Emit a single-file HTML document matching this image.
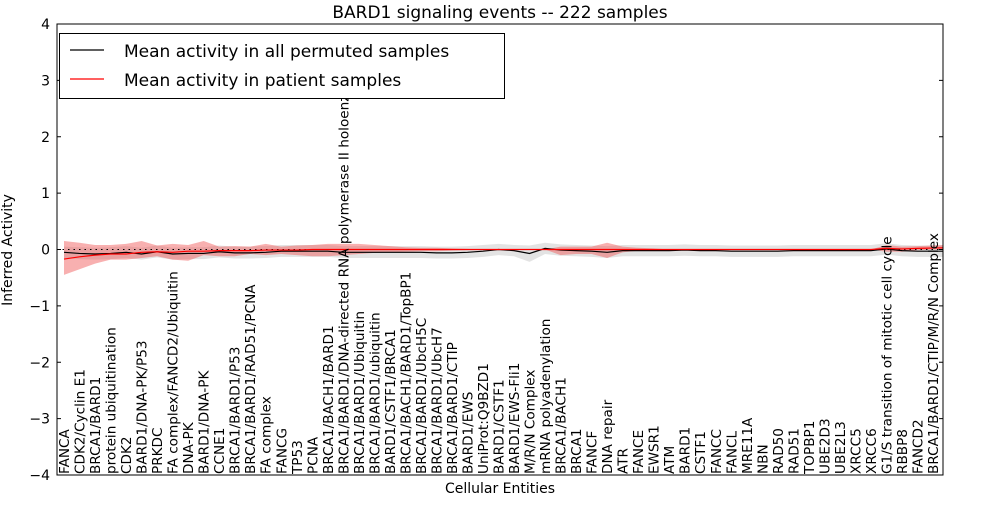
<!DOCTYPE html>
<html><head><meta charset="utf-8"><style>
body{margin:0;background:#fff;font-family:"Liberation Sans","DejaVu Sans",sans-serif}
svg text{font-family:"DejaVu Sans","Liberation Sans",sans-serif}
</style></head><body>
<svg id="c" width="1000" height="500" viewBox="0 0 1000 500" xmlns="http://www.w3.org/2000/svg"></svg>
<script>
const categories=["FANCA","CDK2/Cyclin E1","BRCA1/BARD1","protein ubiquitination","CDK2","BARD1/DNA-PK/P53","PRKDC","FA complex/FANCD2/Ubiquitin","DNA-PK","BARD1/DNA-PK","CCNE1","BRCA1/BARD1/P53","BRCA1/BARD1/RAD51/PCNA","FA complex","FANCG","TP53","PCNA","BRCA1/BACH1/BARD1","BRCA1/BARD1/DNA-directed RNA polymerase II holoenzyme","BRCA1/BARD1/Ubiquitin","BRCA1/BARD1/ubiquitin","BARD1/CSTF1/BRCA1","BRCA1/BACH1/BARD1/TopBP1","BRCA1/BARD1/UbcH5C","BRCA1/BARD1/UbcH7","BRCA1/BARD1/CTIP","BARD1/EWS","UniProt:Q9BZD1","BARD1/CSTF1","BARD1/EWS-Fli1","M/R/N Complex","mRNA polyadenylation","BRCA1/BACH1","BRCA1","FANCF","DNA repair","ATR","FANCE","EWSR1","ATM","BARD1","CSTF1","FANCC","FANCL","MRE11A","NBN","RAD50","RAD51","TOPBP1","UBE2D3","UBE2L3","XRCC5","XRCC6","G1/S transition of mitotic cell cycle","RBBP8","FANCD2","BRCA1/BARD1/CTIP/M/R/N Complex"];
const permMean=[-0.05,-0.07,-0.08,-0.07,-0.05,-0.08,-0.04,-0.08,-0.07,-0.07,-0.04,-0.06,-0.06,-0.05,-0.03,-0.03,-0.03,-0.03,-0.05,-0.05,-0.05,-0.05,-0.05,-0.05,-0.06,-0.06,-0.05,-0.03,0.0,-0.02,-0.07,0.02,-0.01,-0.02,-0.03,-0.05,-0.02,-0.02,-0.02,-0.02,-0.01,-0.02,-0.02,-0.03,-0.03,-0.03,-0.03,-0.02,-0.02,-0.02,-0.02,-0.02,-0.02,0.01,-0.02,-0.03,-0.03];
const permHi=[0.05,0.04,0.03,0.04,0.06,0.03,0.07,0.03,0.04,0.04,0.07,0.05,0.05,0.06,0.08,0.08,0.08,0.08,0.06,0.06,0.06,0.06,0.06,0.06,0.05,0.05,0.06,0.08,0.1,0.08,0.07,0.12,0.09,0.08,0.07,0.06,0.08,0.08,0.08,0.08,0.09,0.08,0.08,0.07,0.07,0.07,0.07,0.08,0.08,0.08,0.08,0.08,0.08,0.11,0.08,0.07,0.07];
const permLo=[-0.15,-0.17,-0.18,-0.17,-0.15,-0.18,-0.14,-0.18,-0.17,-0.17,-0.14,-0.16,-0.16,-0.15,-0.13,-0.13,-0.13,-0.13,-0.15,-0.15,-0.15,-0.15,-0.15,-0.15,-0.16,-0.16,-0.15,-0.13,-0.1,-0.12,-0.22,-0.08,-0.11,-0.12,-0.13,-0.15,-0.12,-0.12,-0.12,-0.12,-0.11,-0.12,-0.12,-0.13,-0.13,-0.13,-0.13,-0.12,-0.12,-0.12,-0.12,-0.12,-0.12,-0.09,-0.12,-0.13,-0.13];
const patMean=[-0.17,-0.13,-0.1,-0.08,-0.08,-0.05,-0.04,-0.05,-0.03,-0.03,-0.02,-0.02,-0.02,-0.01,-0.01,-0.01,0,0,0,0,0,0,0,0,0,0,0,0,0,0,0,0,0,0,0,0,0,0,0,0,0,0,0,0,0,0,0,0,0,0,0,0,0,0.02,0.01,0.02,0.03];
const patHi=[0.15,0.12,0.08,0.08,0.1,0.15,0.07,0.1,0.08,0.15,0.05,0.06,0.05,0.1,0.05,0.07,0.08,0.1,0.1,0.1,0.08,0.06,0.04,0.03,0.03,0.02,0.01,0,0,0,0,0,0.05,0.05,0.05,0.12,0.05,0.03,0.02,0,0,0,0,0,0,0,0,0,0,0,0,0,0,0.08,0.05,0.06,0.08];
const patLo=[-0.45,-0.35,-0.25,-0.18,-0.18,-0.15,-0.12,-0.18,-0.2,-0.1,-0.12,-0.12,-0.08,-0.1,-0.08,-0.1,-0.12,-0.12,-0.1,-0.08,-0.06,-0.05,-0.04,-0.03,-0.03,-0.02,-0.01,0,0,0,0,0,-0.1,-0.08,-0.08,-0.15,-0.05,-0.02,-0.01,0,0,0,0,0,0,0,0,0,0,0,0,0,0,-0.04,-0.04,-0.01,0];
const yTicks=[-4,-3,-2,-1,0,1,2,3,4];

const svg=document.getElementById('c');const NS='http://www.w3.org/2000/svg';
const L=57,R=943,T=24,B=475;
const lx=i=>64+i*(933-64)/(categories.length-1);
const x=i=>i===categories.length-1?R:lx(i);
const y=v=>T+(4-v)*(B-T)/8;
function mk(t,a,p){const e=document.createElementNS(NS,t);for(const k in a)e.setAttribute(k,a[k]);(p||svg).appendChild(e);return e;}
function band(hi,lo,fill,name){let d='M'+hi.map((v,i)=>x(i)+','+y(v)).join('L')+'L'+lo.map((v,i)=>[i,v]).reverse().map(([i,v])=>x(i)+','+y(v)).join('L')+'Z';
const p=mk('path',{d,fill,stroke:'none'});

}
function line(arr,col,name){const p=mk('polyline',{points:arr.map((v,i)=>x(i)+','+y(v)).join(' '),fill:'none',stroke:col,'stroke-width':1.2});

}
band(permHi,permLo,'rgba(200,200,200,0.5)','permuted-band');
band(patHi,patLo,'rgba(240,80,80,0.45)','patient-band');
const z=mk('line',{x1:L,x2:R,y1:y(0),y2:y(0),stroke:'#000','stroke-dasharray':'1.5,4','stroke-width':1});


line(permMean,'#000','permuted-mean-line');
line(patMean,'#f00','patient-mean-line');
categories.forEach((c,i)=>{const t=mk('text',{transform:`translate(${lx(i)+5},474) rotate(-90)`,'font-size':13.6});t.textContent=c;

});
const fr=mk('rect',{x:L,y:T,width:R-L,height:B-T,fill:'none',stroke:'#000','stroke-width':1});


yTicks.forEach(v=>{mk('line',{x1:L,x2:L+4,y1:y(v),y2:y(v),stroke:'#000'});mk('line',{x1:R-4,x2:R,y1:y(v),y2:y(v),stroke:'#000'});
const t=mk('text',{x:L-7,y:y(v)+5,'text-anchor':'end','font-size':14});t.textContent=v<0?'\u2212'+(-v):String(v);

});
</script>
<svg style="position:absolute;left:0;top:0" width="1000" height="500">
<text x="500" y="18" text-anchor="middle" font-size="17">BARD1 signaling events -- 222 samples</text>
<text x="500" y="493" text-anchor="middle" font-size="14">Cellular Entities</text>
<text transform="translate(12,250) rotate(-90)" text-anchor="middle" font-size="14">Inferred Activity</text>
<g>
<rect x="59.5" y="33.5" width="445" height="65" fill="#fff" stroke="#000"/>
<line x1="70" x2="104" y1="50" y2="50" stroke="#000" stroke-width="1.2"/>
<text x="124" y="57" font-size="17">Mean activity in all permuted samples</text>
<line x1="70" x2="104" y1="79" y2="79" stroke="#f00" stroke-width="1.2"/>
<text x="124" y="86" font-size="17">Mean activity in patient samples</text>
</g>
</svg>
</body></html>
